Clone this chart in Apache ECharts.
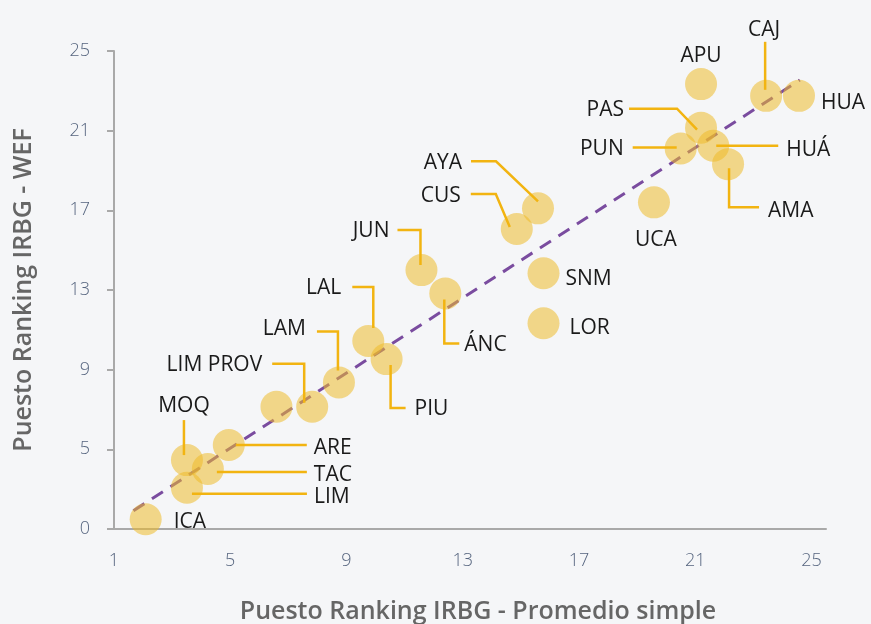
<!DOCTYPE html>
<html>
<head>
<meta charset="utf-8">
<script src="https://cdn.jsdelivr.net/npm/echarts@6/dist/echarts.min.js"></script>
<style>
  html, body { margin: 0; padding: 0; background: #f5f6f8; }
  #chart { width: 871px; height: 624px; }
</style>
</head>
<body>
<div id="chart"></div>
<script>
// Regional ranking: simple-average position vs. WEF-method position
const regions = ['ICA', 'LIM', 'MOQ', 'TAC', 'ARE', '', 'LIM PROV', 'LAM', 'LAL', 'PIU', 'JUN', 'ÁNC',
  'CUS', 'AYA', 'SNM', 'LOR', 'UCA', 'PUN', 'APU', 'PAS', 'HUÁ', 'AMA', 'CAJ', 'HUA'];
const promedioSimple = [2.09, 3.51, 3.51, 4.23, 4.95, 6.59, 7.82, 8.74, 9.75, 10.38, 11.58, 12.40,
  14.86, 15.59, 15.78, 15.78, 19.58, 20.50, 21.20, 21.20, 21.62, 22.13, 23.44, 24.57];
const rankingWef = [1.49, 3.07, 4.46, 4.01, 5.22, 7.14, 7.14, 8.36, 10.44, 9.53, 14.00, 12.83,
  16.06, 17.10, 13.84, 11.33, 17.40, 20.11, 23.34, 21.15, 20.24, 19.32, 22.75, 22.75];

// Fitted trend line end points
const trendX = [1.67, 24.6];
const trendY = [1.92, 23.54];

// Tick labels
const xTickLabels = ['1', '5', '9', '13', '17', '21', '25'];
const yTickLabels = ['0', '5', '9', '13', '17', '21', '25'];

// Label placement: leader path and text anchor, in pixels relative to the marker centre
const labelLayout = {
  'ICA':      { text: [28, 0, 'left'] },
  'LIM':      { path: [[5, 6], [120, 6]], text: [127, 6, 'left'] },
  'MOQ':      { path: [[-3, -40], [-3, -5]], text: [-3, -57, 'center'] },
  'TAC':      { path: [[9, 3], [99, 3]], text: [106, 3, 'left'] },
  'ARE':      { path: [[7, 0], [78, 0]], text: [85, 0, 'left'] },
  'LIM PROV': { path: [[-40, -43], [-8, -43], [-8, -4]], text: [-50, -45, 'right'] },
  'LAM':      { path: [[-22, -51], [-1, -51], [-1, -12]], text: [-33, -56, 'right'] },
  'LAL':      { path: [[-16, -54], [5, -54], [5, -13]], text: [-27, -56, 'right'] },
  'PIU':      { path: [[4, 6], [4, 49], [19, 49]], text: [28, 47, 'left'] },
  'JUN':      { path: [[-24, -40], [-1, -40], [-1, -5]], text: [-32, -42, 'right'] },
  'ÁNC':      { path: [[-1, 6], [-1, 50], [14, 50]], text: [19, 49, 'left'] },
  'CUS':      { path: [[-46, -35], [-21, -35], [-7, -2]], text: [-56, -36, 'right'] },
  'AYA':      { path: [[-67, -47], [-42, -47], [0, -7]], text: [-76, -48, 'right'] },
  'SNM':      { text: [22, 3, 'left'] },
  'LOR':      { text: [26, 2, 'left'] },
  'UCA':      { text: [2, 35, 'center'] },
  'PUN':      { path: [[-48, -1], [-4, -1]], text: [-57, -2, 'right'] },
  'APU':      { text: [0, -31, 'center'] },
  'PAS':      { path: [[-72, -19], [-24, -19], [-4, 2]], text: [-77, -21, 'right'] },
  'HUÁ':      { path: [[3, 0], [65, 0]], text: [73, 1, 'left'] },
  'AMA':      { path: [[1, 4], [1, 43], [31, 43]], text: [40, 44, 'left'] },
  'CAJ':      { path: [[-1, -54], [-1, -6]], text: [-2, -69, 'center'] },
  'HUA':      { text: [22, 4, 'left'] }
};
// Open Sans sits a little high when middle-aligned; nudge text down
const textBaselineShift = 3;

const points = regions.map((name, i) => ({ name: name, value: [promedioSimple[i], rankingWef[i]] }));
const labelData = regions.map((name, i) => [promedioSimple[i], rankingWef[i], i]);

const gold = '#F2B411';
const axisGrey = '#a9a9a9';
const tickColor = '#56657f';
const font = '"Open Sans", "Noto Sans", sans-serif';

const chart = echarts.init(document.getElementById('chart'), null, { renderer: 'canvas' });

chart.setOption({
  backgroundColor: '#f5f6f8',
  animation: false,
  grid: { left: 114, right: 45, top: 51, bottom: 95, containLabel: false, outerBoundsMode: 'none' },
  xAxis: {
    type: 'value',
    min: 1, max: 25.5, interval: 4,
    name: 'Puesto Ranking IRBG - Promedio simple',
    nameLocation: 'middle',
    nameGap: 70,
    nameTextStyle: { fontFamily: font, fontSize: 25, fontWeight: 600, color: '#666666', padding: [0, 0, 0, 16] },
    axisLine: { show: true, lineStyle: { color: axisGrey, width: 2 } },
    axisTick: { show: false },
    splitLine: { show: false },
    axisLabel: {
      margin: 23, color: tickColor, fontFamily: font, fontSize: 18, fontWeight: 300,
      showMaxLabel: false,
      formatter: v => { const k = (v - 1) / 4; return Number.isInteger(k) ? (xTickLabels[k] || '') : ''; }
    }
  },
  yAxis: {
    type: 'value',
    min: 1, max: 25, interval: 4,
    name: 'Puesto Ranking IRBG - WEF',
    nameLocation: 'middle',
    nameGap: 78,
    nameTextStyle: { fontFamily: font, fontSize: 25, fontWeight: 600, color: '#666666' },
    axisLine: { show: true, lineStyle: { color: axisGrey, width: 2 } },
    axisTick: { show: true, length: 7, lineStyle: { color: axisGrey, width: 2 } },
    splitLine: { show: false },
    axisLabel: {
      margin: 24, color: tickColor, fontFamily: font, fontSize: 18, fontWeight: 300,
      formatter: v => { const k = (v - 1) / 4; return Number.isInteger(k) ? (yTickLabels[k] || '') : ''; }
    }
  },
  series: [
    {
      type: 'line',
      data: trendX.map((x, i) => [x, trendY[i]]),
      symbol: 'none',
      z: 1,
      lineStyle: { color: '#7a4c9f', width: 3, type: [13, 9] },
      silent: true
    },
    {
      type: 'scatter',
      data: points,
      symbolSize: 32,
      z: 2,
      itemStyle: { color: 'rgba(238, 186, 40, 0.68)' }
    },
    {
      type: 'custom',
      data: labelData,
      z: 3,
      silent: true,
      renderItem: function (params, api) {
        const idx = api.value(2);
        const name = regions[idx];
        const lay = labelLayout[name];
        if (!lay) return null;
        const c = api.coord([api.value(0), api.value(1)]);
        const children = [];
        if (lay.path) {
          children.push({
            type: 'polyline',
            shape: { points: lay.path.map(p => [c[0] + p[0], c[1] + p[1]]) },
            style: { stroke: gold, lineWidth: 2.5, fill: null }
          });
        }
        children.push({
          type: 'text',
          x: c[0] + lay.text[0],
          y: c[1] + lay.text[1] + textBaselineShift,
          style: {
            text: name,
            fill: '#1a1a1a',
            font: '400 21px ' + font,
            align: lay.text[2],
            verticalAlign: 'middle'
          }
        });
        return { type: 'group', children: children };
      }
    }
  ]
});
</script>
</body>
</html>
